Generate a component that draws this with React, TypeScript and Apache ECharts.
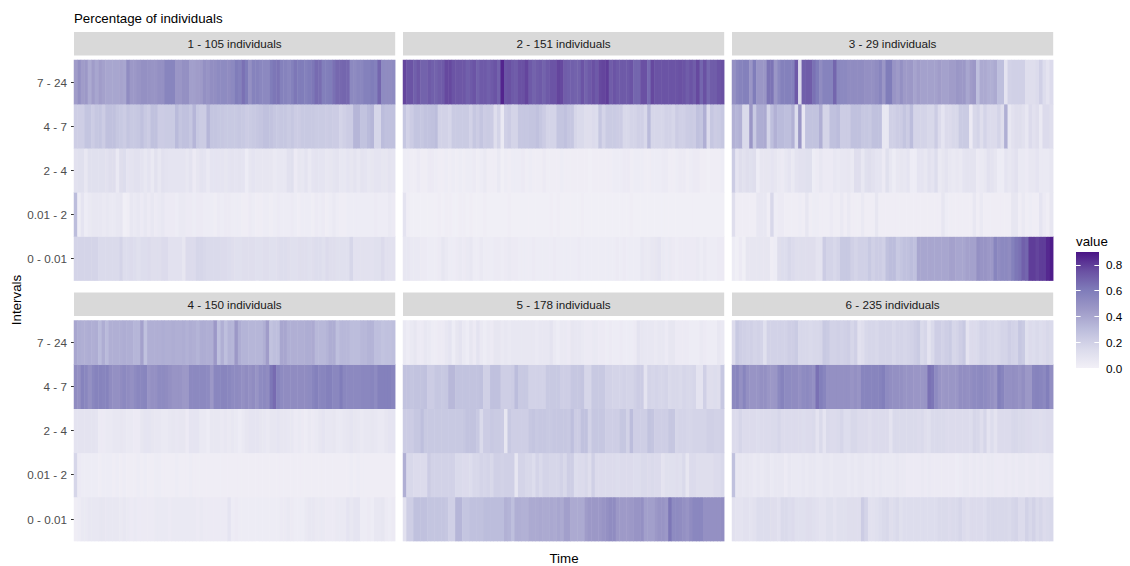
import React, { useEffect, useRef } from "react";
import * as echarts from "echarts";

const intervals = ["0 - 0.01", "0.01 - 2", "2 - 4", "4 - 7", "7 - 24"];
const panelNames = ["1 - 105 individuals", "2 - 151 individuals", "3 - 29 individuals", "4 - 150 individuals", "5 - 178 individuals", "6 - 235 individuals"];
const legendTicks = [0, 0.2, 0.4, 0.6, 0.8];
const palette = ["#F2F0F7", "#DADAEB", "#BCBDDC", "#9E9AC8", "#807DBA", "#6A51A3", "#4A1486"];
const valueMax = 90;

// values in percent, 92 time steps per row
const p1_724 = [44,50,44,46,38,44,40,44,42,40, 40,40,40,41,40,52,46,46,48,50, 50,49,48,48,50,50,56,56,56,47, 47,50,50,43,43,44,45,50,48,51, 51,53,53,53,52,54,60,58,64,60, 50,57,57,55,54,54,60,62,63,58, 57,55,58,62,60,60,58,60,62,66, 65,59,59,60,64,67,67,68,67,54, 53,55,55,58,58,60,58,68,53,52,52,53];
const p1_47 = [21,21,21,26,26,22,25,26,22,28, 28,28,25,24,22,26,24,24,25,28, 24,22,28,28,22,22,23,23,23,31, 26,28,28,25,33,24,22,22,33,26, 26,25,25,24,24,24,24,25,24,22, 23,24,25,26,28,28,27,25,24,25, 25,23,25,22,22,24,24,24,24,23, 23,23,22,23,22,22,18,20,22,22, 33,33,27,27,31,33,17,17,30,28,28,28];
const p1_24 = [10,11,11,6,11,11,11,11,11,10, 12,12,5,12,13,8,9,10,10,9, 6,9,5,10,6,10,9,8,8,8, 8,8,6,9,4,7,9,8,5,8, 8,8,8,7,8,9,8,9,8,3, 7,8,7,7,7,7,7,5,6,6, 6,10,11,4,7,6,9,5,8,9, 8,8,6,7,8,9,6,6,8,7, 9,6,9,8,6,7,8,8,7,7,9,8];
const p1_012 = [30,3,8,3,5,6,6,6,5,6, 5,5,6,7,1,2,6,5,6,4, 6,4,6,4,5,6,4,4,4,3, 5,5,4,4,3,4,4,3,3,3, 2,4,3,4,4,3,3,3,2,2, 4,3,2,2,3,3,2,3,4,3, 3,3,4,3,2,3,3,3,2,4, 3,4,2,3,5,3,2,2,3,3, 3,3,3,3,3,3,4,3,3,3,5,4];
const p1_001 = [18,18,18,18,18,18,18,15,15,15, 15,15,15,18,13,13,14,13,11,13, 13,14,12,12,12,14,14,10,10,10, 10,7,14,14,14,17,17,16,15,15, 15,15,14,14,13,12,11,11,12,12, 12,12,11,11,12,12,11,11,12,13, 13,12,11,11,12,12,12,11,12,13, 13,11,14,12,12,11,11,11,11,17, 10,10,10,10,10,10,11,11,14,10,10,10];

const p2_724 = [78,74,74,70,73,69,69,72,70,69, 71,72,77,77,74,73,73,73,70,72, 74,69,72,72,70,72,74,69,86,74, 75,72,71,75,75,78,72,69,71,72, 69,72,74,74,78,77,71,70,70,69, 69,74,69,72,75,72,77,78,80,71, 74,72,72,72,72,74,68,68,75,75, 66,77,74,74,74,74,74,74,74,75, 74,71,74,71,77,68,75,67,71,71,74,75];
const p2_47 = [25,19,22,26,26,25,27,27,28,30, 19,19,19,17,23,23,23,23,23,19, 25,22,26,22,23,22,12,18,5,20, 22,18,18,25,25,25,26,26,28,25, 22,18,18,18,26,26,28,25,25,17, 15,15,12,12,14,13,25,18,23,23, 23,22,22,16,16,18,18,20,20,16, 31,17,17,17,17,19,19,17,22,20, 20,22,23,22,28,26,36,14,25,22,23,25];
const p2_24 = [3,3,2,2,4,2,2,4,4,3, 2,2,3,2,3,2,3,2,3,3, 4,2,3,5,2,2,2,5,1,3, 2,3,3,3,4,2,3,2,2,2, 4,2,2,2,2,3,2,2,2,2, 2,2,2,1,2,2,2,2,2,2, 3,3,3,4,4,2,3,3,3,2, 2,3,3,3,4,4,2,2,3,4, 4,2,3,4,4,2,2,1,2,2,2,3];
const p2_012 = [9,2,1,1,1,1,1,1,1,1, 2,1,2,2,1,1,2,2,1,2, 1,1,1,2,1,1,1,1,1,1, 2,1,1,1,1,1,1,1,1,1, 1,1,2,1,2,1,1,1,1,1, 1,2,1,1,1,1,1,1,1,1, 1,1,1,1,1,2,1,1,1,1, 1,1,1,1,1,1,1,1,1,1, 1,1,1,1,1,1,1,1,1,1,1,1];
const p2_001 = [6,6,5,5,5,4,4,3,3,3, 4,7,5,3,3,4,5,4,5,6, 3,3,5,3,3,3,4,4,3,4, 5,4,4,3,3,3,3,4,3,3, 3,3,3,4,3,3,3,3,3,3, 4,3,3,3,3,3,3,3,3,3, 3,4,3,4,3,3,3,3,6,5, 5,6,7,8,5,4,5,4,3,4, 4,4,4,4,5,3,5,3,3,3,4,4];

const p3_724 = [50,55,57,58,58,47,60,47,47,47, 63,63,47,54,58,58,58,58,72,14, 70,71,71,64,60,52,57,57,57,68, 55,54,54,52,52,52,52,52,50,50, 50,52,56,47,60,60,48,45,50,45, 45,46,41,44,42,42,42,42,42,44, 42,42,44,44,47,46,46,40,44,46, 29,38,38,36,36,38,29,29,9,19, 20,20,20,20,12,12,12,14,20,13,9,14];
const p3_47 = [35,33,35,15,15,47,24,37,37,38, 18,29,35,31,31,29,29,35,13,47, 6,27,27,27,27,36,18,18,28,28, 30,22,22,22,28,28,28,25,25,24, 28,28,28,6,6,20,20,22,22,26, 22,30,18,18,18,18,16,16,22,14, 8,14,14,16,16,23,23,23,4,16, 18,12,18,14,14,14,18,12,36,6, 10,12,12,10,6,14,10,12,5,14,14,12];
const p3_24 = [22,8,12,10,12,11,12,3,7,7, 7,8,7,5,4,6,8,5,9,10, 10,11,11,3,4,6,4,4,4,6, 5,6,6,7,5,12,12,6,11,12, 10,8,8,4,11,6,3,6,7,6, 8,3,3,8,8,6,10,8,13,5, 7,9,6,5,6,5,8,9,9,9, 4,5,6,10,9,7,3,3,8,6, 8,10,5,5,4,6,6,8,5,5,5,7];
const p3_012 = [12,2,2,2,2,2,2,6,6,6, 2,16,3,4,4,2,2,2,2,3, 2,7,2,3,3,2,2,2,4,2, 2,5,2,5,2,2,2,5,2,2, 2,7,2,2,2,2,2,2,2,2, 2,2,2,2,2,2,2,2,2,2, 7,3,2,2,2,2,2,2,2,6, 2,5,2,2,2,2,2,2,2,2, 7,7,2,5,2,3,2,2,8,4,2,7];
const p3_001 = [3,1,4,1,7,7,7,7,7,7, 7,2,3,12,13,13,16,14,12,12, 12,12,12,12,9,9,22,18,18,16, 18,24,24,24,20,18,20,20,20,24, 20,22,22,20,28,30,30,24,26,28, 28,30,28,40,40,40,40,40,40,40, 40,40,42,42,40,40,40,42,42,42, 50,48,48,46,46,56,52,54,54,52, 58,62,64,70,68,80,80,78,80,80,85,88];

const p4_724 = [40,37,36,36,37,36,37,31,37,31, 36,36,36,36,37,36,36,33,33,42, 28,36,36,36,36,37,36,36,37,36, 36,37,35,37,36,34,37,37,36,36, 46,29,36,29,34,33,46,37,34,34, 33,33,33,33,36,44,27,29,29,40, 40,36,36,36,36,36,37,37,38,32, 32,32,34,37,37,29,32,32,32,30, 30,30,32,32,34,34,29,29,27,28,28,29];
const p4_47 = [52,50,57,55,50,55,57,57,56,57, 52,50,50,52,54,52,50,53,55,55, 56,48,50,50,53,53,52,50,48,48, 48,46,46,54,54,54,54,54,53,46, 55,55,56,56,55,53,53,52,50,52, 50,52,48,53,54,52,62,66,56,53, 52,52,52,52,52,52,52,53,56,58, 55,56,58,58,55,55,60,55,54,54, 54,54,55,55,55,56,53,58,58,58,58,56];
const p4_24 = [9,9,9,9,9,9,8,4,4,5, 5,6,6,7,6,5,5,4,4,7, 8,8,7,6,6,5,5,6,7,6, 7,7,4,8,8,8,5,5,3,6, 6,6,5,6,5,6,5,3,5,7, 8,8,8,7,6,5,7,7,8,7, 7,6,6,4,5,4,3,5,4,5, 7,8,6,6,7,5,5,6,7,8, 7,6,5,6,6,7,6,5,5,7,8,8];
const p4_012 = [17,4,3,3,3,3,3,2,3,3, 3,2,3,2,3,2,2,2,3,2, 3,2,2,3,3,2,2,2,2,3, 2,2,2,3,2,2,2,2,2,2, 2,2,2,2,2,2,2,2,2,2, 2,2,2,2,2,2,2,2,2,2, 2,2,2,2,2,2,2,2,2,2, 2,2,2,2,2,2,2,2,2,3, 2,3,2,2,2,2,2,2,2,2,2,2];
const p4_001 = [2,3,5,5,6,6,6,7,7,6, 6,6,6,5,6,5,4,5,4,4, 4,4,4,5,5,5,5,4,5,5, 5,5,5,5,5,4,5,4,4,4, 4,4,4,4,8,3,4,3,3,3, 3,3,3,3,3,3,3,3,3,4, 4,5,4,3,3,3,5,6,6,5, 5,5,4,4,4,5,5,5,8,6, 8,8,3,3,4,3,6,6,7,4,3,4];

const p5_724 = [5,3,5,7,4,4,6,5,3,3, 4,4,6,8,3,7,9,5,3,7, 4,9,5,3,5,4,7,7,5,6, 5,6,6,6,6,6,6,6,5,6, 6,6,9,5,3,5,5,4,7,6, 6,5,4,4,5,5,4,4,3,4, 3,3,4,3,3,3,4,9,7,6, 6,6,5,6,6,4,7,7,4,4, 4,4,3,3,3,5,4,3,3,3,6,5];
const p5_47 = [27,27,26,27,27,27,28,22,22,25, 25,24,25,32,32,27,27,27,27,27, 27,27,28,20,20,28,28,28,21,21, 21,22,30,24,24,24,19,19,19,19, 19,24,24,24,24,21,21,21,25,25, 25,26,17,17,24,24,24,24,19,19, 18,18,18,19,18,18,20,22,22,9, 18,17,18,17,17,18,15,16,16,15, 17,16,16,17,9,9,20,12,12,13,12,25];
const p5_24 = [22,22,22,25,25,29,24,24,24,24, 24,24,24,24,24,24,24,25,27,27, 27,24,15,22,22,24,23,23,22,7, 24,21,21,21,21,21,25,26,24,25, 25,24,24,25,25,25,25,24,29,22, 22,28,28,19,25,25,25,25,21,21, 21,21,25,25,19,30,21,21,21,21, 27,26,21,21,21,21,25,25,17,18, 18,17,17,18,18,18,18,20,20,19,19,20];
const p5_012 = [36,16,16,14,14,14,14,22,19,19, 19,19,19,19,19,15,15,14,14,13, 16,16,18,17,18,16,20,20,19,20, 20,20,7,18,18,16,16,13,18,15, 18,18,17,17,17,19,16,21,21,13, 14,14,16,12,20,14,14,14,14,14, 14,13,14,14,14,14,13,13,15,15, 14,15,14,14,9,11,11,11,12,11, 15,7,14,14,12,12,12,12,12,14,14,16];
const p5_001 = [10,21,21,28,28,28,28,26,26,26, 26,26,25,20,20,33,33,26,26,28, 28,28,28,30,30,30,30,30,30,35, 34,29,36,36,35,35,38,38,38,39, 38,38,39,38,40,38,43,43,38,38, 38,38,44,46,46,46,46,48,50,52, 52,46,45,45,45,46,48,48,50,43, 43,43,46,48,48,46,62,53,53,52, 50,48,52,55,55,55,50,50,50,50,50,51];

const p6_724 = [14,24,21,20,19,20,18,19,18,11, 19,19,19,19,19,19,21,21,23,16, 16,16,15,16,16,17,24,23,19,19, 20,19,20,21,17,20,10,12,16,17, 17,16,18,18,18,18,16,18,18,17, 18,19,21,23,15,17,9,15,21,21, 19,21,23,17,18,21,24,9,14,14, 15,18,18,16,16,15,16,18,18,21, 19,18,25,23,11,14,13,15,13,14,16,15];
const p6_47 = [54,56,50,56,50,48,48,48,50,50, 47,46,47,54,57,53,53,52,52,50, 53,54,52,50,64,59,56,50,50,50, 50,50,50,50,48,50,48,56,56,56, 56,56,57,59,53,51,50,50,50,48, 48,48,47,47,47,48,64,62,53,48, 46,47,47,47,47,51,51,50,51,53, 53,54,53,51,50,47,59,56,50,50, 51,50,48,51,46,46,56,57,56,54,59,51];
const p6_24 = [14,14,17,14,14,14,14,13,14,14, 14,15,15,17,14,14,14,14,14,14, 13,14,14,15,9,15,8,15,14,14, 15,17,13,13,16,16,14,14,14,12, 14,14,14,14,14,9,15,15,15,15, 15,15,15,14,15,12,11,15,15,15, 15,14,14,14,14,14,14,14,13,17, 16,12,17,9,13,9,14,14,14,14, 16,16,15,15,14,14,13,13,12,13,14,14];
const p6_012 = [28,6,7,6,7,6,5,6,5,6, 7,5,6,6,6,4,6,5,5,5, 6,5,6,6,5,5,6,6,5,6, 6,6,6,5,6,5,6,6,5,5, 6,5,6,5,5,5,5,6,5,5, 4,4,4,4,5,4,5,4,4,4, 4,4,4,4,3,4,5,5,4,5, 4,5,4,5,5,4,4,4,5,4, 5,4,5,5,4,5,5,4,5,5,5,6];
const p6_001 = [10,9,9,10,10,9,10,13,13,13, 13,12,12,10,15,15,13,14,11,11, 11,12,12,11,10,9,9,11,11,9, 11,11,11,12,12,12,12,22,18,10, 10,11,13,15,16,12,13,15,11,13, 13,13,13,13,13,13,13,13,13,15, 15,15,14,15,15,17,14,12,14,14, 14,14,13,16,16,16,16,16,16,15, 17,18,14,14,19,16,19,15,17,14,15,16];

const panels = [
  [p1_001, p1_012, p1_24, p1_47, p1_724],
  [p2_001, p2_012, p2_24, p2_47, p2_724],
  [p3_001, p3_012, p3_24, p3_47, p3_724],
  [p4_001, p4_012, p4_24, p4_47, p4_724],
  [p5_001, p5_012, p5_24, p5_47, p5_724],
  [p6_001, p6_012, p6_24, p6_47, p6_724],
];

const FONT = "'Liberation Sans', Arial, Helvetica, sans-serif";
const panelLefts = [74, 403, 732];
const panelTops = [60, 320.5];
const PANEL_W = 321.2;
const PANEL_H = 220.6;
const STRIP_H = 23.5;

export default function App() {
  const ref = useRef<HTMLDivElement>(null);
  useEffect(() => {
    const chart = echarts.init(ref.current!, undefined, { renderer: "svg" });
    const grid: any[] = [];
    const xAxis: any[] = [];
    const yAxis: any[] = [];
    const series: any[] = [];
    const graphic: any[] = [];

    panels.forEach((rows, p) => {
      const col = p % 3;
      const row = Math.floor(p / 3);
      const left = panelLefts[col];
      const top = panelTops[row];
      grid.push({ left, top, width: PANEL_W, height: PANEL_H, containLabel: false, show: false });
      xAxis.push({
        type: "category", gridIndex: p, show: false, boundaryGap: true,
        data: rows[0].map((_, i) => String(i + 1)),
      });
      yAxis.push({
        type: "category", gridIndex: p, data: intervals, show: col === 0,
        axisLine: { show: false },
        axisTick: { show: false },
        axisLabel: { color: "#4D4D4D", fontSize: 11.7, fontFamily: FONT, margin: 7 },
        splitLine: { show: false },
      });
      const data: number[][] = [];
      rows.forEach((vals, y) => vals.forEach((v, x) => data.push([x, y, v / 100])));
      series.push({
        type: "heatmap", xAxisIndex: p, yAxisIndex: p, data, silent: true,
        itemStyle: { borderWidth: 0 }, emphasis: { disabled: true },
      });
      graphic.push({
        type: "rect", shape: { x: left, y: top - 28, width: PANEL_W, height: STRIP_H },
        style: { fill: "#D9D9D9" }, silent: true,
      });
      graphic.push({
        type: "text", x: left + PANEL_W / 2, y: top - 28 + STRIP_H / 2, silent: true,
        style: { text: panelNames[p], fill: "#1A1A1A", font: `11.7px ${FONT}`, align: "center", verticalAlign: "middle" },
      });
      if (col === 0) {
        intervals.forEach((_, i) => {
          const y = Math.floor(top + (PANEL_H * (i + 0.5)) / intervals.length) + 0.5;
          graphic.push({
            type: "line", silent: true, shape: { x1: left - 3, y1: y, x2: left, y2: y },
            style: { stroke: "#333333", lineWidth: 1 },
          });
        });
      }
    });

    // colour bar: gradient rectangle under axes that carry its ticks and labels
    const L = 6;
    grid.push({ left: 1076, top: 252, width: 23, height: 116, show: false });
    xAxis.push({ type: "value", gridIndex: L, show: false, min: 0, max: 1 });
    const legendAxis = (position: string, labels: boolean) => ({
      type: "value", gridIndex: L, position, min: 0, max: valueMax / 100, z: 10,
      axisLine: { show: false }, splitLine: { show: false },
      axisTick: { show: true, inside: true, length: 4.6, customValues: legendTicks, lineStyle: { color: "#FFFFFF", width: 1 } },
      axisLabel: {
        show: labels, customValues: legendTicks, color: "#000000", fontSize: 11.7, fontFamily: FONT, margin: 7,
        formatter: (v: number) => v.toFixed(1),
      },
    });
    yAxis.push(legendAxis("left", false), legendAxis("right", true));

    graphic.push(
      {
        type: "rect", z: 1, silent: true, shape: { x: 1076, y: 252, width: 23, height: 116 },
        style: {
          fill: new echarts.graphic.LinearGradient(0, 1, 0, 0,
            palette.map((color, i) => ({ offset: i / (palette.length - 1), color }))),
        },
      },
      { type: "text", x: 74, y: 18, silent: true, style: { text: "Percentage of individuals", fill: "#000000", font: `13.3px ${FONT}`, align: "left", verticalAlign: "middle" } },
      { type: "text", x: 564, y: 558, silent: true, style: { text: "Time", fill: "#000000", font: `13.3px ${FONT}`, align: "center", verticalAlign: "middle" } },
      { type: "text", x: 16, y: 300, rotation: Math.PI / 2, silent: true, style: { text: "Intervals", fill: "#000000", font: `13.3px ${FONT}`, align: "center", verticalAlign: "middle" } },
      { type: "text", x: 1076, y: 241, silent: true, style: { text: "value", fill: "#000000", font: `13.3px ${FONT}`, align: "left", verticalAlign: "middle" } },
    );

    chart.setOption({
      animation: false,
      backgroundColor: "#FFFFFF",
      grid, xAxis, yAxis, series, graphic,
      visualMap: {
        type: "continuous", min: 0, max: valueMax / 100, dimension: 2, seriesIndex: [0, 1, 2, 3, 4, 5],
        show: false, inRange: { color: palette },
      },
    });
    return () => chart.dispose();
  }, []);
  return <div ref={ref} style={{ position: "fixed", left: 0, top: 0, width: 1130, height: 566 }} />;
}
